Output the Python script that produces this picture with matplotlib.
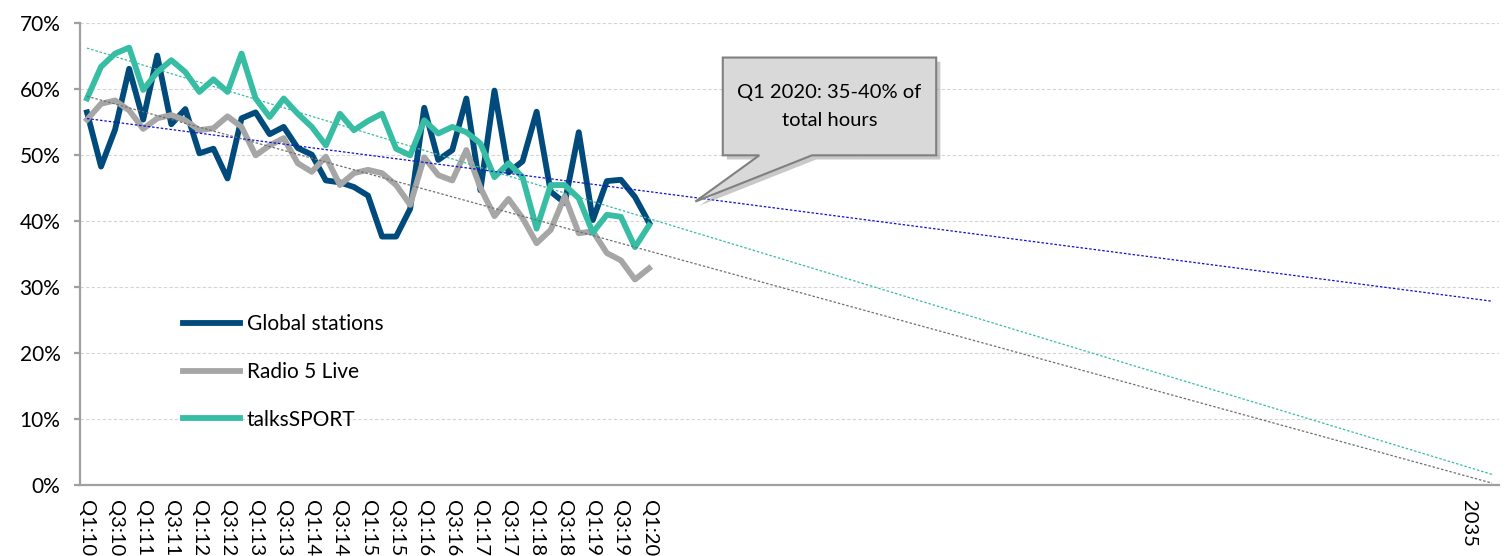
import numpy as np
import matplotlib.pyplot as plt
import matplotlib.patheffects as pe
from matplotlib.patches import Polygon
from matplotlib.ticker import FuncFormatter

plt.rcParams['font.family'] = ['Lato', 'DejaVu Sans']

# share of hours, %, quarterly Q1:10 .. Q1:20
global_stations = [56.4, 48.2, 53.8, 63.0, 55.3, 65.0, 54.6, 56.9, 50.2, 50.9,
                   46.4, 55.5, 56.4, 53.1, 54.2, 51.0, 50.0, 46.1, 45.8, 45.1,
                   43.8, 37.6, 37.6, 41.8, 57.1, 49.2, 50.7, 58.5, 44.6, 59.7,
                   47.3, 49.0, 56.5, 44.4, 42.7, 53.4, 40.1, 46.0, 46.2, 43.6,
                   39.7]
radio_5_live = [55.3, 57.7, 58.2, 56.7, 53.9, 55.5, 56.0, 55.2, 53.7, 54.0,
                55.8, 54.2, 49.9, 51.4, 52.5, 48.7, 47.4, 49.7, 45.4, 47.2,
                47.7, 47.2, 45.4, 42.4, 49.6, 46.9, 46.1, 50.7, 45.0, 40.7,
                43.3, 40.4, 36.6, 38.6, 43.7, 38.1, 38.4, 35.1, 34.0, 31.1,
                32.8]
talksport = [58.5, 63.3, 65.3, 66.2, 59.8, 62.5, 64.3, 62.5, 59.5, 61.4,
             59.5, 65.3, 58.5, 55.7, 58.5, 56.2, 54.2, 51.4, 56.2, 53.7,
             55.1, 56.2, 50.9, 49.9, 55.2, 53.2, 54.2, 53.4, 51.7, 46.6,
             48.7, 46.6, 38.8, 45.4, 45.4, 43.4, 38.2, 40.9, 40.6, 36.0,
             39.3]

quarter_labels = ['Q1:10', 'Q3:10', 'Q1:11', 'Q3:11', 'Q1:12', 'Q3:12', 'Q1:13',
                  'Q3:13', 'Q1:14', 'Q3:14', 'Q1:15', 'Q3:15', 'Q1:16', 'Q3:16',
                  'Q1:17', 'Q3:17', 'Q1:18', 'Q3:18', 'Q1:19', 'Q3:19', 'Q1:20']
end_label = '2035'
n_periods = 101  # Q1:10 through Q1:35, trend projected forward

callout_text = 'Q1 2020: 35-40% of\ntotal hours'

x = np.arange(len(global_stations))
x_all = np.arange(n_periods)

fig = plt.figure(figsize=(15.06, 5.56), dpi=100)
ax = fig.add_axes([0.0531, 0.1277, 0.9423, 0.8318])

series = [
    ('Global stations', global_stations, '#004a7c', '#1010cc'),
    ('Radio 5 Live', radio_5_live, '#a6a6a6', '#707070'),
    ('talksSPORT', talksport, '#36bda3', '#36bda3'),
]

handles = []
for name, vals, col, tcol in series:
    ln, = ax.plot(x, vals, color=col, lw=4.2, label=name, zorder=3)
    handles.append(ln)

# linear trendlines, extended to 2035
for name, vals, col, tcol in series:
    slope, icpt = np.polyfit(x, vals, 1)
    ax.plot(x_all, icpt + slope * x_all, color=tcol, lw=0.9,
            ls=(0, (2, 1.5)), zorder=4)

ax.set_xlim(-0.5, n_periods - 0.5)
ax.set_ylim(0, 70)
ax.set_yticks(range(0, 71, 10))
ax.yaxis.set_major_formatter(FuncFormatter(lambda v, p: f'{v:.0f}%'))
ax.yaxis.grid(True, color='#d4d4d4', ls=(0, (3, 2)), lw=0.8)
ax.set_axisbelow(True)

ax.set_xticks(list(range(0, 41, 2)) + [98.3])
ax.set_xticklabels(quarter_labels + [end_label])

for s in ['top', 'right']:
    ax.spines[s].set_visible(False)
for s in ['left', 'bottom']:
    ax.spines[s].set_color('#a0a0a0')
    ax.spines[s].set_linewidth(1.6)

ax.tick_params(axis='y', length=4, width=1.6, color='#a0a0a0', pad=10, labelsize=15)
ax.tick_params(axis='x', length=0, pad=11, labelsize=14.5, labelrotation=-90)

ax.legend(handles=handles, loc='upper left', bbox_to_anchor=(0.0726, 0.370),
          frameon=False, fontsize=15, handlelength=2.75, handletextpad=0.3,
          labelspacing=1.34, borderpad=0, borderaxespad=0)

# speech-bubble callout
L, R, T, B = 45.25, 60.44, 64.7, 49.9
tip = (43.3, 42.9)
bubble = Polygon([(L, T), (R, T), (R, B), (51.6, B), tip, (47.85, B), (L, B)],
                 closed=True, facecolor='#d9d9d9', edgecolor='#808080', lw=1.5,
                 zorder=6, clip_on=False)
bubble.set_path_effects([pe.SimplePatchShadow(offset=(3, -3), shadow_rgbFace='#888888', alpha=0.45),
                         pe.Normal()])
ax.add_patch(bubble)
ax.text((L + R) / 2, (T + B) / 2, callout_text, ha='center', va='center',
        fontsize=14.5, linespacing=1.75, zorder=7)

fig.savefig('out.png', dpi=100)
